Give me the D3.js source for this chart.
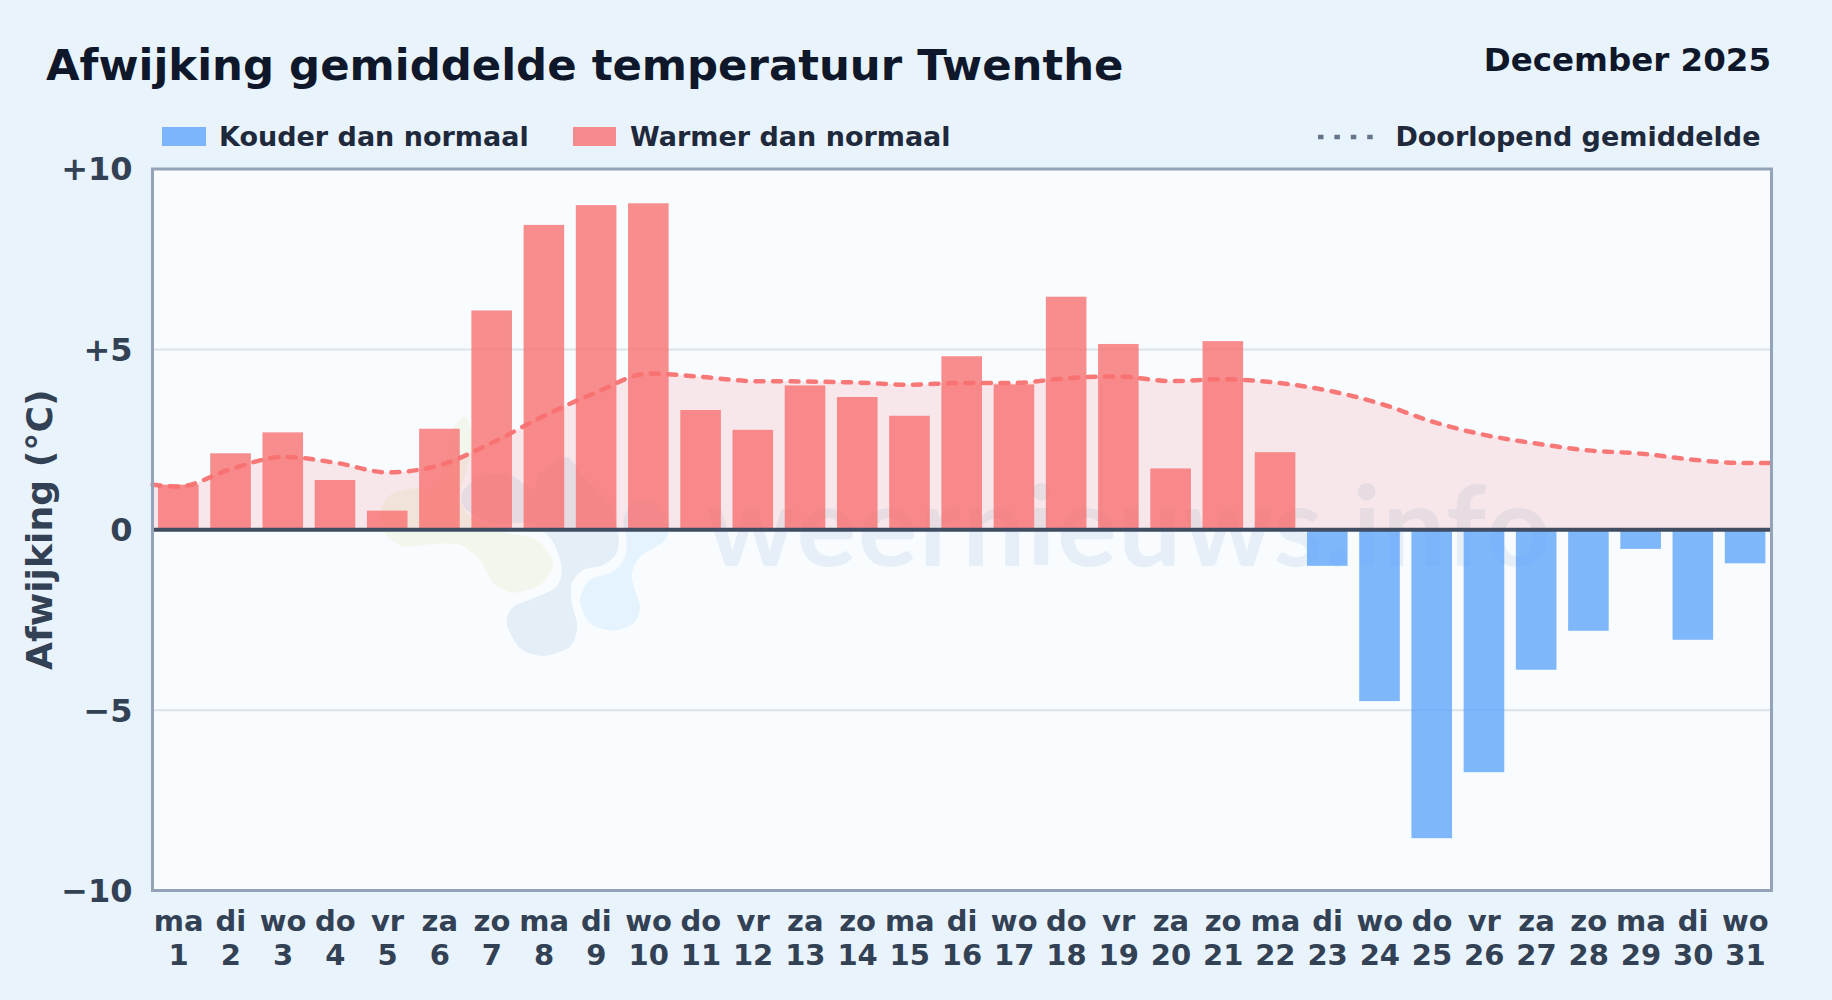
<!DOCTYPE html>
<html>
<head>
<meta charset="utf-8">
<script src="https://cdnjs.cloudflare.com/ajax/libs/d3/7.8.5/d3.min.js"></script>
<style>
  html, body { margin: 0; padding: 0; background: #e9f3fc; }
  text { font-family: "DejaVu Sans", sans-serif; font-weight: bold; }
</style>
</head>
<body>
<div id="chart"></div>
<script>
const svgWidth = 1832
const svgHeight = 1000

const margin = { top: 169, right: 60.5, bottom: 109.5, left: 152.5 }
const width = svgWidth - margin.left - margin.right
const height = svgHeight - margin.top - margin.bottom

const days = d3.range(1, 32)
const weekdays = ["ma","di","wo","do","vr","za","zo","ma","di","wo","do","vr","za","zo","ma","di","wo","do","vr","za","zo","ma","di","wo","do","vr","za","zo","ma","di","wo"]
const anomalies = [1.25,2.12,2.7,1.38,0.53,2.8,6.08,8.45,9.0,9.05,3.32,2.77,4.0,3.68,3.16,4.81,4.03,6.46,5.15,1.7,5.23,2.15,-1.0,-4.75,-8.55,-6.72,-3.88,-2.8,-0.53,-3.05,-0.93]
const runningDays = [0.5,1,2,3,4,5,6,7,8,9,10,11,12,13,14,15,16,17,18,19,20,21,22,23,24,25,26,27,28,29,30,31,31.5]
const runningMean = [1.25,1.2,1.68,2.02,1.86,1.59,1.79,2.41,3.16,3.81,4.33,4.24,4.12,4.11,4.08,4.02,4.07,4.07,4.2,4.25,4.12,4.17,4.08,3.86,3.5,3.0,2.63,2.39,2.2,2.11,1.94,1.85,1.85]
const yTicks = [10, 5, 0, -5, -10]

const coldColor = "#60a5fa"
const warmColor = "#f87171"
const textColor = "#334155"

let svg = d3.select("#chart").append("svg")
  .attr("width", svgWidth)
  .attr("height", svgHeight)
  .style("display", "block")

svg.append("text").attr("x", 46).attr("y", 79.5)
  .attr("font-size", 43.4).attr("fill", "#0f172a")
  .text("Afwijking gemiddelde temperatuur Twenthe")

svg.append("text").attr("x", 1771).attr("y", 70.5)
  .attr("text-anchor", "end").attr("font-size", 32.5).attr("fill", "#0f172a")
  .text("December 2025")

// legend
const legend = svg.append("g").attr("font-size", 27).attr("fill", "#1e293b")
legend.append("rect").attr("x", 162).attr("y", 127).attr("width", 44).attr("height", 19)
  .attr("fill", coldColor).attr("opacity", 0.8)
legend.append("text").attr("x", 219).attr("y", 146).text("Kouder dan normaal")
legend.append("rect").attr("x", 573).attr("y", 127).attr("width", 43).attr("height", 19)
  .attr("fill", warmColor).attr("opacity", 0.8)
legend.append("text").attr("x", 630).attr("y", 146).text("Warmer dan normaal")
legend.append("line").attr("x1", 1318).attr("x2", 1373).attr("y1", 137).attr("y2", 137)
  .attr("stroke", "#64748b").attr("stroke-width", 4.7).attr("stroke-dasharray", "5.5 10.9")
legend.append("text").attr("x", 1760.5).attr("y", 146).attr("text-anchor", "end")
  .text("Doorlopend gemiddelde")

let chartGroup = svg.append("g")
  .attr("transform", `translate(${margin.left}, ${margin.top})`)

let x = d3.scaleLinear().domain([0.5, 31.5]).range([0, width])
let y = d3.scaleLinear().domain([-10, 10]).range([height, 0])

chartGroup.append("rect")
  .attr("width", width).attr("height", height).attr("fill", "#f8fcff")

// gridlines
chartGroup.selectAll(".grid").data([5, -5]).enter().append("line")
  .attr("x1", 0).attr("x2", width)
  .attr("y1", d => y(d)).attr("y2", d => y(d))
  .attr("stroke", "#dbe3e8").attr("stroke-width", 2)

// watermark, drawn in page coordinates
const mark = chartGroup.append("g").attr("transform", `translate(${-margin.left}, ${-margin.top})`)
const blobYellow = [[285,50],[310,120],[290,210],[270,290],[300,350],[400,395],[500,420],[550,490],[510,555],[430,578],[370,550],[330,480],[270,435],[190,432],[100,440],[45,400],[30,330],[60,285],[130,265],[190,260],[225,190],[240,100]]
const blobDark = [[410,670],[430,620],[490,595],[560,560],[575,500],[545,420],[480,370],[380,370],[290,330],[275,280],[330,230],[420,225],[490,270],[510,220],[590,170],[640,230],[720,310],[745,400],[740,460],[700,495],[640,510],[605,550],[605,610],[622,680],[600,740],[520,768],[450,745]]
const blobLight = [[630,600],[660,540],[730,515],[765,470],[770,420],[760,360],[790,305],[860,310],[900,370],[880,425],[810,470],[785,530],[810,620],[790,670],[730,692],[660,670]]
const blobLine = d3.line().x(d => 370 + d[0] / 3).y(d => 400 + d[1] / 3).curve(d3.curveCardinalClosed.tension(0.2))
mark.append("path").attr("d", blobLine(blobYellow)).attr("fill", "#c5d868").attr("opacity", 0.12)
mark.append("path").attr("d", blobLine(blobDark)).attr("fill", "#2563a8").attr("opacity", 0.09)
mark.append("path").attr("d", blobLine(blobLight)).attr("fill", "#38a3f0").attr("opacity", 0.1)
mark.append("text").attr("x", 706).attr("y", 566)
  .attr("font-size", 112).attr("fill", "#2563a8").attr("opacity", 0.08)
  .style("font-family", "Lato").style("font-weight", "bold").style("letter-spacing", "1.5px")
  .text("weernieuws.info")

// running mean area and line
const runningData = runningDays.map((d, i) => ({ day: d, value: runningMean[i] }))
chartGroup.append("path").datum(runningData)
  .attr("fill", warmColor).attr("opacity", 0.15)
  .attr("d", d3.area().x(d => x(d.day)).y0(y(0)).y1(d => y(d.value)).curve(d3.curveMonotoneX))

// bars
const barWidth = 40.6
chartGroup.selectAll(".bar").data(days).enter().append("rect")
  .attr("x", d => x(d) - barWidth / 2 - 0.3)
  .attr("width", barWidth)
  .attr("y", (d, i) => y(Math.max(0, anomalies[i])))
  .attr("height", (d, i) => Math.abs(y(anomalies[i]) - y(0)))
  .attr("fill", (d, i) => anomalies[i] < 0 ? coldColor : warmColor)
  .attr("opacity", 0.8)

chartGroup.append("path").datum(runningData)
  .attr("fill", "none").attr("stroke", warmColor).attr("stroke-width", 4.5)
  .attr("stroke-dasharray", "8 9.5").attr("stroke-linecap", "round").attr("opacity", 0.95)
  .attr("d", d3.line().x(d => x(d.day)).y(d => y(d.value)).curve(d3.curveMonotoneX))

// zero line
chartGroup.append("line").attr("x1", 0).attr("x2", width).attr("y1", y(0)).attr("y2", y(0))
  .attr("stroke", "#3f4c61").attr("stroke-width", 4)

// plot border
chartGroup.append("rect").attr("width", width).attr("height", height)
  .attr("fill", "none").attr("stroke", "#94a3b8").attr("stroke-width", 3)

// axes
let leftAxis = d3.axisLeft(y).tickValues(yTicks).tickSize(0).tickPadding(20).offset(0)
  .tickFormat(d => d > 0 ? `+${d}` : d < 0 ? `\u2212${-d}` : "0")
let yAxis = chartGroup.append("g").call(leftAxis)
yAxis.select(".domain").remove()
yAxis.selectAll("text").attr("font-size", 32).attr("fill", textColor).attr("y", 1.2)
  .style("font-family", "'DejaVu Sans'").style("font-weight", "bold")

let bottomAxis = d3.axisBottom(x).tickValues(days).tickSize(0).offset(0).tickFormat(d => d)
let xAxis = chartGroup.append("g").attr("transform", `translate(0, ${height})`).call(bottomAxis)
xAxis.select(".domain").remove()
xAxis.selectAll("text").each(function (d, i) {
  const t = d3.select(this).text("").attr("y", 0).attr("dy", null)
    .attr("font-size", 29).attr("fill", textColor)
    .style("font-family", "'DejaVu Sans'").style("font-weight", "bold")
  t.append("tspan").attr("x", 0).attr("y", 40.5).text(weekdays[i])
  t.append("tspan").attr("x", 0).attr("y", 74).text(d)
})

svg.append("text")
  .attr("transform", `translate(51.5, ${margin.top + height / 2}) rotate(-90)`)
  .attr("text-anchor", "middle").attr("font-size", 36.2).attr("fill", textColor)
  .text("Afwijking (°C)")
</script>
</body>
</html>
